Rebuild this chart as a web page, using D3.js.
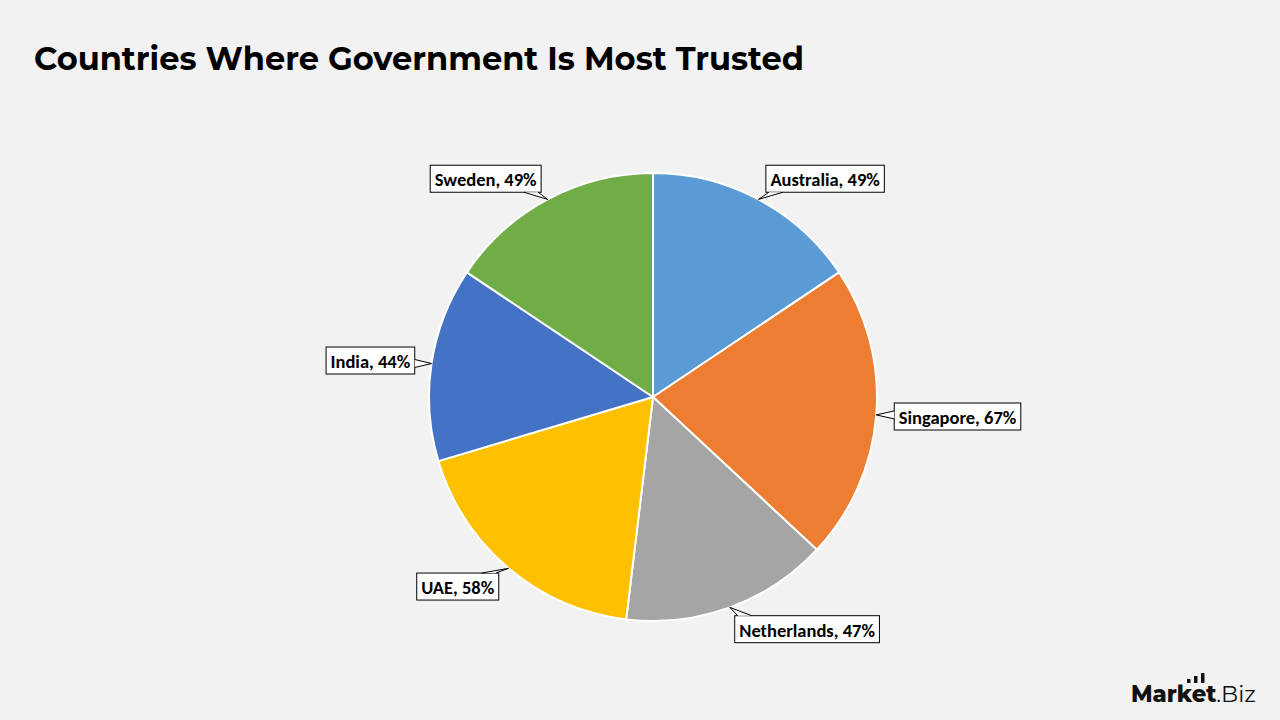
<!DOCTYPE html>
<html><head><meta charset="utf-8">
<script src="https://cdn.jsdelivr.net/npm/d3@7/dist/d3.min.js"></script>
<style>html,body{margin:0;padding:0;background:#F2F2F2;}svg{display:block;}</style>
</head><body>
<svg id="chart" width="1280" height="720"></svg>
<script>
const categories = ["Australia", "Singapore", "Netherlands", "UAE", "India", "Sweden"];
const values = [49, 67, 47, 58, 44, 49];
const colors = ["#5B9BD5", "#ED7D31", "#A5A5A5", "#FFC000", "#4472C4", "#70AD47"];
const titleText = "Countries Where Government Is Most Trusted";

const W = 1280, H = 720;
const svg = d3.select("#chart");
svg.append("rect").attr("width", W).attr("height", H).attr("fill", "#F2F2F2");

// Title
const title = svg.append("text")
  .attr("x", 34).attr("y", 70)
  .attr("font-family", "Montserrat, 'Open Sans', 'DejaVu Sans', sans-serif")
  .attr("font-weight", 700).attr("font-size", 30).attr("fill", "#000")
  .text(titleText);
const tw = title.node().getComputedTextLength();
title.attr("font-size", 30 * 770 / tw);

// Pie
const cx = 653, cy = 397, R = 224;
const data = categories.map((c, i) => ({ name: c, value: values[i], color: colors[i] }));
const pie = d3.pie().value(d => d.value).sort(null);
const arcs = pie(data);
const arc = d3.arc().innerRadius(0).outerRadius(R);
const g = svg.append("g").attr("transform", `translate(${cx},${cy})`);
g.selectAll("path.slice").data(arcs).enter().append("path")
  .attr("class", "slice")
  .attr("d", arc)
  .attr("fill", d => d.data.color)
  .attr("stroke", "#FFFFFF").attr("stroke-width", 2).attr("stroke-linejoin", "round");

// Labels with wedge callouts
const lg = svg.append("g");
arcs.forEach(a => {
  const mid = (a.startAngle + a.endAngle) / 2;
  const sx = Math.sin(mid), sy = -Math.cos(mid);
  const tip = [cx + R * sx, cy + R * sy];
  const lp = [cx + (R + 20) * sx, cy + (R + 20) * sy];
  const label = `${a.data.name}, ${a.data.value}%`;
  const t = lg.append("text")
    .attr("font-family", "Carlito, Calibri, Lato, 'Open Sans', sans-serif")
    .attr("font-weight", 700).attr("font-size", 18.5).attr("fill", "#000")
    .attr("dominant-baseline", "central")
    .text(label);
  const tl = t.node().getComputedTextLength();
  const bw = tl + 9, bh = 27;
  const right = sx >= 0;
  let x0 = right ? lp[0] - 2 : lp[0] + 3 - bw;
  let y0 = lp[1] - bh / 2 + (sy > 0.5 ? 3 : (sy < -0.5 ? -3 : 0));
  const x1 = x0 + bw, y1 = y0 + bh;
  let b1, b2;
  const hw = 7;
  if (tip[1] > y1 || tip[1] < y0) {
    const ey = tip[1] > y1 ? y1 : y0;
    const c = Math.max(x0 + 10, Math.min(x1 - 10, tip[0]));
    b1 = [c - hw, ey]; b2 = [c + hw, ey];
  } else {
    const ex = tip[0] > x1 ? x1 : x0;
    const c = Math.max(y0 + 6, Math.min(y1 - 6, tip[1]));
    b1 = [ex, c - 4]; b2 = [ex, c + 4];
  }
  lg.insert("rect", "text")
    .attr("x", x0).attr("y", y0).attr("width", bw).attr("height", bh)
    .attr("fill", "#FFFFFF").attr("stroke", "#000").attr("stroke-width", 1);
  lg.insert("path", "text")
    .attr("d", `M${b1[0]},${b1[1]}L${tip[0]},${tip[1]}L${b2[0]},${b2[1]}Z`)
    .attr("fill", "#FFFFFF").attr("stroke", "none");
  lg.insert("path", "text")
    .attr("d", `M${b1[0]},${b1[1]}L${tip[0]},${tip[1]}L${b2[0]},${b2[1]}`)
    .attr("fill", "none").attr("stroke", "#000").attr("stroke-width", 1);
  t.attr("x", x0 + 4.5).attr("y", y0 + bh / 2 + 1);
});

// Logo
const logo = svg.append("g");
const lt = logo.append("text").attr("x", 1131).attr("y", 702)
  .attr("font-family", "Montserrat, 'Open Sans', sans-serif").attr("font-size", 25).attr("fill", "#111");
lt.append("tspan").attr("font-weight", 800).text("Market");
lt.append("tspan").attr("font-weight", 400).text(".Biz");
const lw = lt.node().getComputedTextLength();
lt.attr("font-size", 25 * 125 / lw);
const barH = [4, 7, 10];
barH.forEach((h, i) => {
  logo.append("rect").attr("x", 1187 + i * 7).attr("y", 683 - h).attr("width", 3.5).attr("height", h).attr("fill", "#111");
});
</script>
</body></html>
